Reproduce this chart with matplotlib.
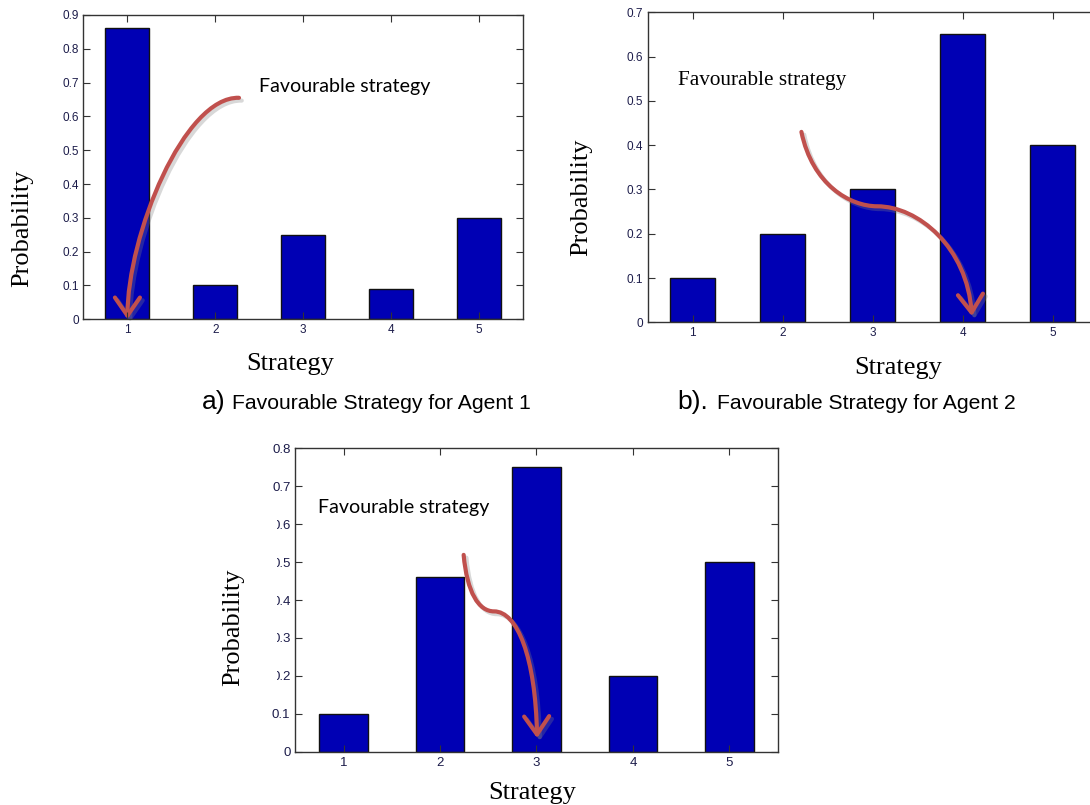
import matplotlib
matplotlib.use('Agg')
import matplotlib.pyplot as plt
from matplotlib.patches import FancyArrowPatch, Rectangle
from matplotlib.path import Path
import matplotlib.patheffects as pe

strategies = [1, 2, 3, 4, 5]
agent1 = [0.86, 0.10, 0.25, 0.09, 0.30]
agent2 = [0.10, 0.20, 0.30, 0.65, 0.40]
agent3 = [0.10, 0.46, 0.75, 0.20, 0.50]

bar_color = '#0000B4'
arrow_color = '#C0504D'
tick_color = '#1c1c4a'

fig = plt.figure(figsize=(10.9, 8.05), dpi=100)


def panel(rect, values, ymax, xlab_xy, ticksize=8.5):
    ax = fig.add_axes(rect)
    ax.bar(strategies, values, width=0.5, color=bar_color, edgecolor='#111111', linewidth=1)
    ax.set_xlim(0.5, 5.5)
    ax.set_ylim(0, ymax)
    ax.set_xticks(strategies)
    n = int(round(ymax * 10))
    ax.set_yticks([i / 10 for i in range(n + 1)])
    ax.set_yticklabels(['0'] + ['%.1f' % (i / 10) for i in range(1, n + 1)])
    ax.tick_params(direction='in', length=5, width=0.8, top=True, right=True,
                   labelsize=ticksize, labelcolor=tick_color, color='#333333', pad=3.5)
    for lab in ax.get_xticklabels() + ax.get_yticklabels():
        lab.set_family('Liberation Sans')
    for s in ax.spines.values():
        s.set_color('#333333')
        s.set_linewidth(1)
    ax.set_xlabel('Strategy', family='Liberation Serif', fontsize=19)
    ax.xaxis.set_label_coords(*xlab_xy)
    return ax


def curved_arrow(ax, verts):
    codes = [Path.MOVETO] + [Path.CURVE4] * (len(verts) - 1)
    arr = FancyArrowPatch(path=Path(verts, codes), arrowstyle='->,head_length=13,head_width=9',
                          color=arrow_color, lw=3, transform=ax.transData, clip_on=False,
                          path_effects=[pe.SimpleLineShadow(offset=(2, -2), shadow_color='gray', alpha=0.3),
                                        pe.Normal()])
    ax.add_patch(arr)


# a) Agent 1
ax1 = panel([0.0766, 0.6034, 0.4032, 0.378], agent1, 0.9, (0.470, -0.111))
ax1.set_ylabel('Probability', family='Liberation Serif', fontsize=19)
ax1.yaxis.set_label_coords(-0.1138, 0.300)
ax1.text(2.497, 0.687, 'Favourable strategy', family='Lato', fontsize=14.1, va='center', ha='left')
curved_arrow(ax1, [(2.269, 0.655), (1.65, 0.66), (1.0, 0.25), (1.0, 0.0)])

# b) Agent 2
ax2 = panel([0.5941, 0.5996, 0.4132, 0.3851], agent2, 0.7, (0.556, -0.112))
ax2.set_ylabel('Probability', family='Liberation Serif', fontsize=19)
ax2.yaxis.set_label_coords(-0.1234, 0.404)
ax2.text(0.837, 0.545, 'Favourable strategy', family='Liberation Serif', fontsize=15.3,
         va='center', ha='left')
curved_arrow(ax2, [(2.208, 0.43), (2.33, 0.31), (2.75, 0.262), (3.05, 0.262),
                   (3.5, 0.262), (4.05, 0.17), (4.10, 0.014)])

# c) Agent 3
ax3 = panel([0.2709, 0.0662, 0.4426, 0.3769], agent3, 0.8, (0.491, -0.100), ticksize=9.5)
# white box of the label hides part of the tick labels, as in the source figure
ax3.add_patch(Rectangle((200 / 1090, 110 / 805), 77 / 1090, 190 / 805, transform=fig.transFigure,
                        facecolor='white', edgecolor='none', clip_on=False, zorder=5))
ax3.text(-0.128, 0.411, 'Probability', family='Liberation Serif', fontsize=19, rotation=90,
         ha='center', va='center', transform=ax3.transAxes, zorder=6)
ax3.text(0.738, 0.645, 'Favourable strategy', family='Lato', fontsize=14.1, va='center', ha='left')
curved_arrow(ax3, [(2.245, 0.519), (2.28, 0.42), (2.4, 0.37), (2.56, 0.37),
                   (2.8, 0.37), (2.99, 0.25), (3.006, 0.036)])

# captions
fig.text(202 / 1090, 1 - 402 / 805, 'a)', family='Liberation Sans', fontsize=19, va='center')
fig.text(232 / 1090, 1 - 403 / 805, 'Favourable Strategy for Agent 1', family='Liberation Sans',
         fontsize=15.2, va='center')
fig.text(677 / 1090, 1 - 402 / 805, 'b).', family='Liberation Sans', fontsize=19, va='center')
fig.text(717 / 1090, 1 - 403 / 805, 'Favourable Strategy for Agent 2', family='Liberation Sans',
         fontsize=15.2, va='center')

fig.savefig('out.png', dpi=100)
